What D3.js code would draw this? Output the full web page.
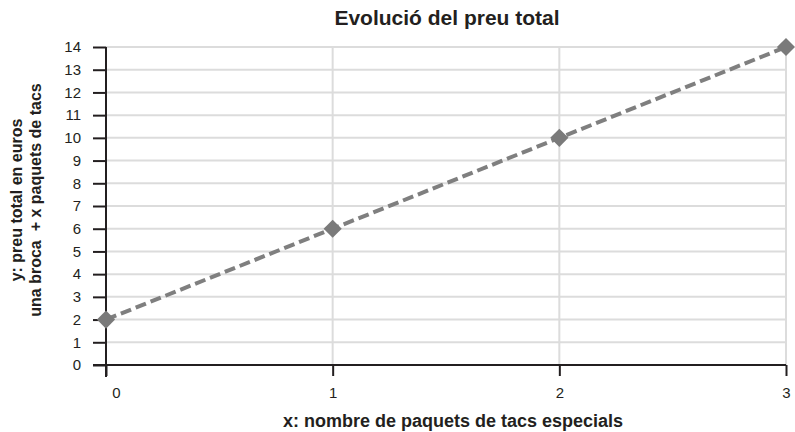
<!DOCTYPE html>
<html><head><meta charset="utf-8">
<script src="https://cdn.jsdelivr.net/npm/d3@7"></script>
<style>body{margin:0;background:#fff}svg{display:block}text{font-family:"Liberation Sans",Arial,sans-serif}</style>
</head><body>
<svg id="c" width="795" height="432"></svg>
<script>
const xValues = [0, 1, 2, 3];
const yValues = [2, 6, 10, 14];
const yTicks = d3.range(0, 15);
const xTicks = [0, 1, 2, 3];
const title = "Evolució del preu total";
const xTitle = "x: nombre de paquets de tacs especials";
const yTitle = ["y: preu total en euros", "una broca \u00a0+ x paquets de tacs"];

const svg = d3.select("#c");
const x = d3.scaleLinear().domain([0, 3]).range([106, 786]);
const y = d3.scaleLinear().domain([0, 14]).range([365, 47]);

// grid
svg.append("g").selectAll("line").data(yTicks.filter(d => d > 0)).join("line")
  .attr("x1", x(0)).attr("x2", x(3)).attr("y1", d => y(d)).attr("y2", d => y(d))
  .attr("stroke", "#dcdcdc").attr("stroke-width", 2);
svg.append("g").selectAll("line").data(xTicks.filter(d => d > 0)).join("line")
  .attr("x1", d => x(d)).attr("x2", d => x(d)).attr("y1", y(0)).attr("y2", y(14))
  .attr("stroke", "#dcdcdc").attr("stroke-width", 2);

// axes
const ya = svg.append("g").attr("transform", `translate(${x(0)},0)`)
  .call(d3.axisLeft(y).tickValues(yTicks).tickSize(13).tickPadding(12).tickFormat(d3.format("d")));
const xa = svg.append("g").attr("transform", `translate(0,${y(0)})`)
  .call(d3.axisBottom(x).tickValues(xTicks).tickSize(11).tickPadding(11).tickFormat(d3.format("d")));
[ya, xa].forEach(a => {
  a.select(".domain").remove();
  a.selectAll("line").attr("stroke", "#231f20").attr("stroke-width", 2);
  a.selectAll("text").attr("fill", "#231f20").style("font-size", "15px").style("font-family", "'Liberation Sans',Arial,sans-serif");
});
xa.selectAll(".tick text").attr("dx", d => d === 0 ? 10 : 0);
svg.append("line").attr("x1", x(0)).attr("x2", x(0)).attr("y1", y(14)).attr("y2", y(0) + 12)
  .attr("stroke", "#231f20").attr("stroke-width", 2);
svg.append("line").attr("x1", x(0) - 13).attr("x2", x(3)).attr("y1", y(0)).attr("y2", y(0))
  .attr("stroke", "#231f20").attr("stroke-width", 2);

// line
const pts = xValues.map((d, i) => [d, yValues[i]]);
svg.append("path").datum(pts)
  .attr("d", d3.line().x(d => x(d[0])).y(d => y(d[1])))
  .attr("fill", "none").attr("stroke", "#7f7f7f").attr("stroke-width", 4)
  .attr("stroke-dasharray", "11,5");
svg.append("g").selectAll("path").data(pts).join("path")
  .attr("d", d3.symbol(d3.symbolSquare, 165))
  .attr("transform", d => `translate(${x(d[0])},${y(d[1])}) rotate(45)`)
  .attr("fill", "#7a7a7a");

// titles
svg.append("text").attr("x", 447).attr("y", 25).attr("text-anchor", "middle")
  .style("font-weight", "bold").style("font-size", "21px").attr("fill", "#231f20").text(title);
svg.append("text").attr("x", 453).attr("y", 427).attr("text-anchor", "middle")
  .style("font-weight", "bold").style("font-size", "18px").attr("fill", "#231f20").text(xTitle);
const yl = svg.append("text").attr("transform", "translate(0,200) rotate(-90)")
  .attr("text-anchor", "middle").style("font-weight", "bold").style("font-size", "16px").attr("fill", "#231f20");
yl.selectAll("tspan").data(yTitle).join("tspan")
  .attr("x", 0).attr("y", (d, i) => 22 + i * 19).text(d => d);
</script>
</body></html>
